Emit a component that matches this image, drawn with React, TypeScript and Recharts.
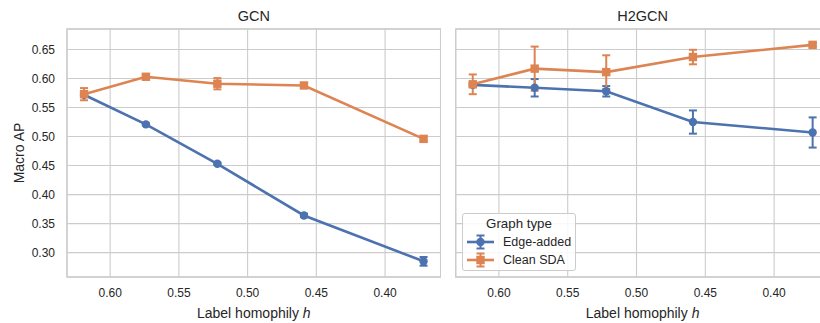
import {
  CartesianGrid,
  ErrorBar,
  Line,
  LineChart,
  ReferenceArea,
  XAxis,
  YAxis,
} from "recharts";

// label homophily h of each perturbed graph (x axis runs high -> low)
const homophily = [0.619, 0.574, 0.522, 0.459, 0.372];

// GCN panel
const gcnEdgeAdded = [0.572, 0.521, 0.453, 0.364, 0.285];
const gcnEdgeAddedErr = [0.002, 0.002, 0.002, 0.003, 0.0075];
const gcnClean = [0.573, 0.603, 0.591, 0.588, 0.496];
const gcnCleanErr = [0.0105, 0.003, 0.0097, 0.004, 0.004];

// H2GCN panel
const h2gcnEdgeAdded = [0.589, 0.584, 0.578, 0.525, 0.507];
const h2gcnEdgeAddedErr = [0.003, 0.015, 0.009, 0.02, 0.026];
const h2gcnClean = [0.59, 0.617, 0.611, 0.637, 0.658];
const h2gcnCleanErr = [0.017, 0.038, 0.029, 0.0125, 0.003];

const xTicks = [0.6, 0.55, 0.5, 0.45, 0.4];
const yTicks = [0.3, 0.35, 0.4, 0.45, 0.5, 0.55, 0.6, 0.65];

const X_DOMAIN: [number, number] = [0.3596, 0.6314];
const Y_DOMAIN: [number, number] = [0.258, 0.6853];

const W = 820;
const H = 323;
const PLOT_TOP = 29;
const PLOT_BOTTOM = 277;

const BLUE = "#4c72b0";
const ORANGE = "#dd8452";
const GRID = "#cccccc";
const TEXT = "#262626";
const FONT = '"Liberation Sans", Arial, sans-serif';

type Row = { h: number; edge: number; edgeErr: number; clean: number; cleanErr: number };

const buildRows = (edge: number[], edgeErr: number[], clean: number[], cleanErr: number[]): Row[] =>
  homophily.map((h, i) => ({
    h,
    edge: edge[i],
    edgeErr: edgeErr[i],
    clean: clean[i],
    cleanErr: cleanErr[i],
  }));

const gcnRows = buildRows(gcnEdgeAdded, gcnEdgeAddedErr, gcnClean, gcnCleanErr);
const h2gcnRows = buildRows(h2gcnEdgeAdded, h2gcnEdgeAddedErr, h2gcnClean, h2gcnCleanErr);

const fmt = (v: number) => v.toFixed(2);

const CircleDot = (p: any) => (
  <circle key={`c-${p.index}`} cx={p.cx} cy={p.cy} r={4.2} fill={BLUE} />
);
const SquareDot = (p: any) => (
  <rect key={`s-${p.index}`} x={p.cx - 4.2} y={p.cy - 4.2} width={8.4} height={8.4} fill={ORANGE} />
);

function Panel({
  rows,
  left,
  width,
  marginLeft,
  marginRight,
  showY,
}: {
  rows: Row[];
  left: number;
  width: number;
  marginLeft: number;
  marginRight: number;
  showY: boolean;
}) {
  return (
    <div style={{ position: "absolute", left, top: 0 }}>
      <LineChart
        width={width}
        height={H}
        data={rows}
        margin={{ top: PLOT_TOP, right: marginRight, bottom: 0, left: marginLeft }}
      >
        <CartesianGrid stroke={GRID} strokeWidth={1.1} />
        <ReferenceArea
          x1={X_DOMAIN[0]}
          x2={X_DOMAIN[1]}
          y1={Y_DOMAIN[0]}
          y2={Y_DOMAIN[1]}
          fill="none"
          stroke={GRID}
          strokeWidth={1.3}
          ifOverflow="visible"
        />
        <XAxis
          dataKey="h"
          type="number"
          domain={X_DOMAIN}
          reversed
          allowDataOverflow
          ticks={xTicks}
          interval={0}
          tickFormatter={fmt}
          height={H - PLOT_BOTTOM}
          tickLine={false}
          axisLine={false}
          tickSize={0}
          tickMargin={11.5}
          tick={{ fill: TEXT, fontSize: 12, fontFamily: FONT }}
        />
        <YAxis
          type="number"
          domain={Y_DOMAIN}
          allowDataOverflow
          ticks={yTicks}
          interval={0}
          tickFormatter={fmt}
          hide={!showY}
          width={67}
          tickLine={false}
          axisLine={false}
          tickSize={0}
          tickMargin={12}
          tick={{ fill: TEXT, fontSize: 12, fontFamily: FONT }}
        />
        <Line
          dataKey="edge"
          type="linear"
          stroke={BLUE}
          strokeWidth={2.6}
          dot={CircleDot}
          activeDot={false}
          isAnimationActive={false}
        >
          <ErrorBar dataKey="edgeErr" direction="y" width={4} stroke={BLUE} strokeWidth={2} isAnimationActive={false} />
        </Line>
        <Line
          dataKey="clean"
          type="linear"
          stroke={ORANGE}
          strokeWidth={2.6}
          dot={SquareDot}
          activeDot={false}
          isAnimationActive={false}
        >
          <ErrorBar dataKey="cleanErr" direction="y" width={4} stroke={ORANGE} strokeWidth={2} isAnimationActive={false} />
        </Line>
      </LineChart>
    </div>
  );
}

const legendItems = [
  { name: "Edge-added", color: BLUE, marker: "circle" },
  { name: "Clean SDA", color: ORANGE, marker: "square" },
];

function LegendBox() {
  return (
    <div
      style={{
        position: "absolute",
        left: 462,
        top: 213,
        width: 112,
        height: 56,
        border: `1px solid ${GRID}`,
        borderRadius: 3,
        background: "rgba(255,255,255,0.85)",
        fontFamily: FONT,
        color: TEXT,
      }}
    >
      <div style={{ position: "absolute", left: 0, right: 0, top: 2, textAlign: "center", fontSize: 13.3, lineHeight: "16px" }}>
        Graph type
      </div>
      {legendItems.map((it, i) => (
        <div key={it.name} style={{ position: "absolute", left: 4, top: 19 + i * 18, height: 18, display: "flex", alignItems: "center" }}>
          <svg width={28} height={18}>
            <line x1={0} x2={27} y1={9} y2={9} stroke={it.color} strokeWidth={2.6} />
            <line x1={13.5} x2={13.5} y1={2.5} y2={15.5} stroke={it.color} strokeWidth={2} />
            <line x1={9.5} x2={17.5} y1={2.5} y2={2.5} stroke={it.color} strokeWidth={2} />
            <line x1={9.5} x2={17.5} y1={15.5} y2={15.5} stroke={it.color} strokeWidth={2} />
            {it.marker === "circle" ? (
              <circle cx={13.5} cy={9} r={4.2} fill={it.color} />
            ) : (
              <rect x={9.3} y={4.8} width={8.4} height={8.4} fill={it.color} />
            )}
          </svg>
          <span style={{ marginLeft: 8, fontSize: 12.5, lineHeight: "18px" }}>{it.name}</span>
        </div>
      ))}
    </div>
  );
}

export default function App() {
  return (
    <div
      style={{
        position: "absolute",
        left: 0,
        top: 0,
        width: W,
        height: H,
        overflow: "hidden",
        background: "#fff",
      }}
    >
      <Panel rows={gcnRows} left={0} width={441} marginLeft={0} marginRight={0.4} showY />
      <Panel rows={h2gcnRows} left={450} width={380} marginLeft={5.7} marginRight={0.3} showY={false} />

      <svg width={W} height={H} style={{ position: "absolute", left: 0, top: 0, pointerEvents: "none" }}>
        <g fontFamily={FONT} fill={TEXT}>
          <text x={253.8} y={20.5} textAnchor="middle" fontSize={14.5}>GCN</text>
          <text x={642.6} y={20.5} textAnchor="middle" fontSize={14.5}>H2GCN</text>
          <text x={253.8} y={317.5} textAnchor="middle" fontSize={14}>
            Label homophily <tspan fontStyle="italic">h</tspan>
          </text>
          <text x={642.6} y={317.5} textAnchor="middle" fontSize={14}>
            Label homophily <tspan fontStyle="italic">h</tspan>
          </text>
          <text transform="translate(23.5,153) rotate(-90)" textAnchor="middle" fontSize={14}>
            Macro AP
          </text>
        </g>
      </svg>

      <LegendBox />
    </div>
  );
}
